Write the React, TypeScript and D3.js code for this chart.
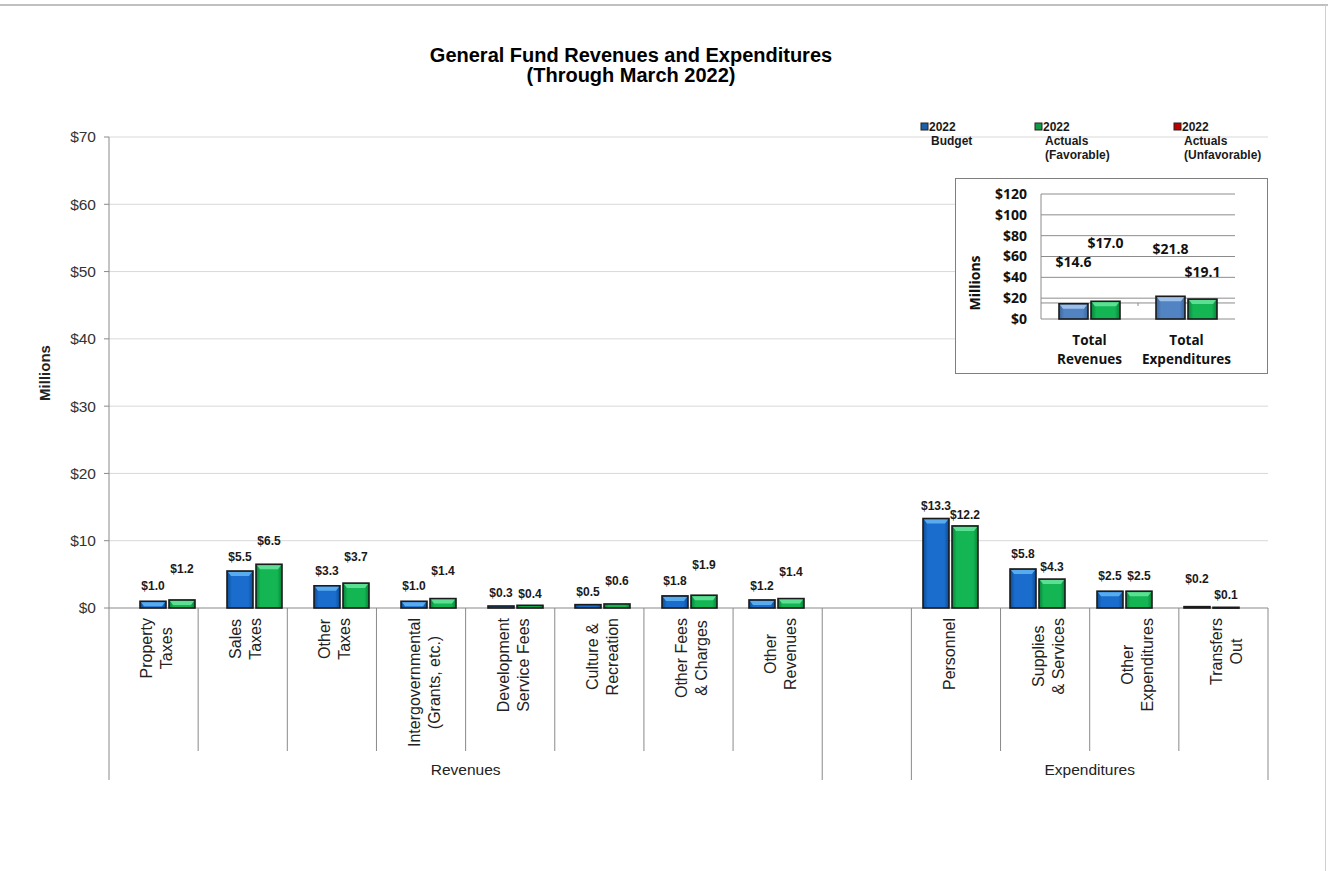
import React, { useEffect, useRef } from 'react';
import * as d3 from 'd3';

// ---------- data ----------
const categoryLines: string[][] = [
  ['Property', 'Taxes'],
  ['Sales', 'Taxes'],
  ['Other', 'Taxes'],
  ['Intergovernmental', '(Grants, etc.)'],
  ['Development', 'Service Fees'],
  ['Culture &', 'Recreation'],
  ['Other Fees', '& Charges'],
  ['Other', 'Revenues'],
  [],
  ['Personnel', ''],
  ['Supplies', '& Services'],
  ['Other', 'Expenditures'],
  ['Transfers', 'Out'],
];
const categoryGroup: string[] = [
  'Revenues', 'Revenues', 'Revenues', 'Revenues', 'Revenues', 'Revenues', 'Revenues', 'Revenues',
  '',
  'Expenditures', 'Expenditures', 'Expenditures', 'Expenditures',
];
const budget2022: (number | null)[] = [1.0, 5.5, 3.3, 1.0, 0.3, 0.5, 1.8, 1.2, null, 13.3, 5.8, 2.5, 0.2];
const actual2022: (number | null)[] = [1.2, 6.5, 3.7, 1.4, 0.4, 0.6, 1.9, 1.4, null, 12.2, 4.3, 2.5, 0.1];
const yTicks = [0, 10, 20, 30, 40, 50, 60, 70];

const insetCategories: string[][] = [['Total', 'Revenues'], ['Total', 'Expenditures']];
const insetBudget = [14.6, 21.8];
const insetActual = [17.0, 19.1];
const insetTicks = [0, 20, 40, 60, 80, 100, 120];
const insetRefValue = 15.4;

const legendLabels: string[][] = [
  ['2022', 'Budget'],
  ['2022', 'Actuals', '(Favorable)'],
  ['2022', 'Actuals', '(Unfavorable)'],
];

const titleLines = ['General Fund Revenues and Expenditures', '(Through March 2022)'];

// ---------- layout constants (not data) ----------
const W = 1328;
const H = 871;
const FONT = "'Liberation Sans', Arial, sans-serif";
const IFONT = "'Open Sans', 'Liberation Sans', sans-serif";
const budgetLift = [15, 14, 15, 15, 13, 13, 15, 14, 0, 13, 15, 15, 28];
const actualLift = [31, 23, 26, 28, 12, 23, 30, 27, 0, 11, 12, 15, 13];
const insetBudgetLift = [42, 47];
const insetActualLift = [58, 27];

const PAL = {
  blue: { dark: '#0b4a94', main: '#1a6dcc', light: '#5fb2f2' },
  green: { dark: '#07823a', main: '#13b653', light: '#66e39a' },
  steel: { dark: '#3b6699', main: '#5283c2', light: '#a4c6ee' },
};

export default function App() {
  const ref = useRef<SVGSVGElement | null>(null);

  useEffect(() => {
    const svg = d3.select(ref.current);
    svg.selectAll('*').remove();
    const defs = svg.append('defs');

    Object.entries(PAL).forEach(([k, p]) => {
      const g = defs.append('linearGradient').attr('id', 'g-' + k).attr('x1', 0).attr('x2', 1).attr('y1', 0).attr('y2', 0);
      g.append('stop').attr('offset', 0).attr('stop-color', p.dark);
      g.append('stop').attr('offset', 0.18).attr('stop-color', p.main);
      g.append('stop').attr('offset', 0.82).attr('stop-color', p.main);
      g.append('stop').attr('offset', 1).attr('stop-color', p.dark);
    });

    const drawBar = (g: any, x: number, y: number, w: number, h: number, key: 'blue' | 'green' | 'steel') => {
      const p = PAL[key];
      g.append('rect').attr('x', x).attr('y', y).attr('width', w).attr('height', Math.max(h, 0.8))
        .attr('fill', `url(#g-${key})`).attr('stroke', '#1b1b1b').attr('stroke-width', 1.6);
      if (h > 6) {
        g.append('path')
          .attr('d', `M${x + 1},${y + 1}L${x + w - 1},${y + 1}L${x + w - 4},${y + 5}L${x + 4},${y + 5}Z`)
          .attr('fill', p.light).attr('opacity', 0.9);
      }
    };

    // frame artefacts
    svg.append('line').attr('x1', 0).attr('x2', W).attr('y1', 5).attr('y2', 5).attr('stroke', '#c0c0c0').attr('stroke-width', 2);
    svg.append('line').attr('x1', W - 2.5).attr('x2', W - 2.5).attr('y1', 5).attr('y2', H).attr('stroke', '#cfcfcf').attr('stroke-width', 1);

    // title
    titleLines.forEach((t, i) => {
      svg.append('text').attr('x', 631).attr('y', 62 + i * 20).attr('text-anchor', 'middle')
        .attr('font-family', FONT).attr('font-weight', 'bold').attr('font-size', 20).attr('fill', '#000').text(t);
    });

    // ---------- main chart ----------
    const left = 109, right = 1268, top = 137, bottom = 608;
    const ids = categoryLines.map((_, i) => String(i));
    const axisX = d3.scaleBand<string>().domain(ids).range([left, right]).padding(0);
    const barX = d3.scaleBand<string>().domain(ids).range([124, 1255]).padding(0);
    const sub = d3.scaleBand<string>().domain(['budget', 'actual']).range([0, barX.bandwidth()])
      .paddingInner(0.1034).paddingOuter(0.5517);
    const y = d3.scaleLinear().domain([0, 70]).range([bottom, top]);

    const main = svg.append('g');
    yTicks.forEach((t) => {
      if (t > 0) {
        main.append('line').attr('x1', left).attr('x2', right).attr('y1', y(t)).attr('y2', y(t))
          .attr('stroke', '#d9d9d9').attr('stroke-width', 1);
      }
      main.append('line').attr('x1', left - 5).attr('x2', left).attr('y1', y(t)).attr('y2', y(t))
        .attr('stroke', '#8a8a8a');
      main.append('text').attr('x', left - 13).attr('y', y(t)).attr('dy', '0.35em').attr('text-anchor', 'end')
        .attr('font-family', FONT).attr('font-size', 15.5).attr('fill', '#333').text(d3.format('$')(t));
    });

    main.append('text').attr('transform', `translate(50,373) rotate(-90)`).attr('text-anchor', 'middle')
      .attr('font-family', FONT).attr('font-weight', 'bold').attr('font-size', 15).attr('fill', '#222').text('Millions');

    // category separators
    for (let i = 0; i <= ids.length; i++) {
      const xPos = i < ids.length ? (axisX(ids[i]) as number) : right;
      const isGroupEdge = i === 0 || i === ids.length || categoryGroup[i] !== categoryGroup[i - 1];
      main.append('line').attr('x1', xPos).attr('x2', xPos).attr('y1', i === 0 ? top : bottom)
        .attr('y2', isGroupEdge ? 780 : 751).attr('stroke', '#8a8a8a').attr('stroke-width', 1);
    }
    main.append('line').attr('x1', left).attr('x2', right).attr('y1', bottom).attr('y2', bottom)
      .attr('stroke', '#8a8a8a').attr('stroke-width', 1.2);

    // group labels
    const groups: { name: string; start: number; end: number }[] = [];
    categoryGroup.forEach((gName, i) => {
      const last = groups[groups.length - 1];
      if (last && last.name === gName) last.end = i;
      else groups.push({ name: gName, start: i, end: i });
    });
    groups.forEach((gr) => {
      if (!gr.name) return;
      const x0 = axisX(ids[gr.start]) as number;
      const x1 = (axisX(ids[gr.end]) as number) + axisX.bandwidth();
      main.append('text').attr('x', (x0 + x1) / 2).attr('y', 775).attr('text-anchor', 'middle')
        .attr('font-family', FONT).attr('font-size', 15.5).attr('fill', '#222').text(gr.name);
    });

    // category labels (rotated)
    const lineH = 20;
    categoryLines.forEach((lines, i) => {
      if (!lines.length) return;
      const g = main.append('g');
      const texts = lines.map((l) => g.append('text').attr('text-anchor', 'middle')
        .attr('font-family', FONT).attr('font-size', 16).attr('fill', '#222').attr('dy', '0.35em').text(l));
      const maxLen = d3.max(texts, (t: any) => (t.node() as SVGTextElement).getComputedTextLength()) || 0;
      const cx = (axisX(ids[i]) as number) + axisX.bandwidth() / 2 + 3;
      const yc = 618 + maxLen / 2;
      texts.forEach((t: any, j: number) => {
        const lx = cx + (j - (lines.length - 1) / 2) * lineH;
        t.attr('transform', `translate(${lx},${yc}) rotate(-90)`);
      });
    });

    // bars
    const bars = main.append('g');
    ids.forEach((id, i) => {
      const b = budget2022[i];
      const a = actual2022[i];
      const x0 = barX(id) as number;
      const bw = sub.bandwidth();
      if (b != null) {
        const xb = x0 + (sub('budget') as number);
        drawBar(bars, xb, y(b), bw, bottom - y(b), 'blue');
        bars.append('text').attr('x', xb + bw / 2).attr('y', y(b) - budgetLift[i]).attr('dy', '0.35em')
          .attr('text-anchor', 'middle').attr('font-family', FONT).attr('font-weight', 'bold').attr('font-size', 12)
          .attr('fill', '#1a1a1a').text(d3.format('$.1f')(b));
      }
      if (a != null) {
        const xa = x0 + (sub('actual') as number);
        drawBar(bars, xa, y(a), bw, bottom - y(a), 'green');
        bars.append('text').attr('x', xa + bw / 2).attr('y', y(a) - actualLift[i]).attr('dy', '0.35em')
          .attr('text-anchor', 'middle').attr('font-family', FONT).attr('font-weight', 'bold').attr('font-size', 12)
          .attr('fill', '#1a1a1a').text(d3.format('$.1f')(a));
      }
    });

    // ---------- legend ----------
    const legendX = [921, 1035, 1174];
    const legendColors = ['#1f5fa8', '#149a46', '#c00000'];
    legendLabels.forEach((lines, i) => {
      const g = svg.append('g');
      g.append('rect').attr('x', legendX[i]).attr('y', 123).attr('width', 7).attr('height', 7)
        .attr('fill', legendColors[i]).attr('stroke', '#222').attr('stroke-width', 1);
      lines.forEach((l, j) => {
        g.append('text').attr('x', legendX[i] + (j === 0 ? 8 : 10)).attr('y', 131 + j * 14)
          .attr('font-family', FONT).attr('font-weight', 'bold').attr('font-size', 12).attr('fill', '#1a1a1a').text(l);
      });
    });

    // ---------- inset ----------
    const inset = svg.append('g');
    inset.append('rect').attr('x', 955.5).attr('y', 178.5).attr('width', 312).attr('height', 195)
      .attr('fill', '#fff').attr('stroke', '#7f7f7f').attr('stroke-width', 1);
    const iL = 1041, iR = 1235, iT = 194, iB = 319;
    const iy = d3.scaleLinear().domain([0, 120]).range([iB, iT]);
    const iIds = insetCategories.map((_, i) => String(i));
    const ix = d3.scaleBand<string>().domain(iIds).range([iL, iR]).padding(0);
    const isub = d3.scaleBand<string>().domain(['budget', 'actual']).range([0, ix.bandwidth()])
      .paddingInner(0.094).paddingOuter(0.5625);

    insetTicks.forEach((t) => {
      inset.append('line').attr('x1', iL).attr('x2', iR).attr('y1', iy(t)).attr('y2', iy(t))
        .attr('stroke', '#8c8c8c').attr('stroke-width', 1);
      inset.append('text').attr('x', 1027).attr('y', iy(t)).attr('dy', '0.35em').attr('text-anchor', 'end')
        .attr('font-family', IFONT).attr('font-weight', 'bold').attr('font-size', 14).attr('fill', '#111')
        .text(d3.format('$')(t));
    });
    inset.append('line').attr('x1', iL).attr('x2', iR).attr('y1', iy(insetRefValue)).attr('y2', iy(insetRefValue))
      .attr('stroke', '#8c8c8c').attr('stroke-width', 1);
    inset.append('line').attr('x1', iL + ix.bandwidth()).attr('x2', iL + ix.bandwidth())
      .attr('y1', iy(insetRefValue)).attr('y2', iy(insetRefValue) + 3).attr('stroke', '#8c8c8c');
    inset.append('line').attr('x1', iL).attr('x2', iL).attr('y1', iT).attr('y2', iB).attr('stroke', '#8c8c8c');
    inset.append('text').attr('transform', `translate(980,283) rotate(-90)`).attr('text-anchor', 'middle')
      .attr('font-family', IFONT).attr('font-weight', 'bold').attr('font-size', 14).attr('fill', '#111').text('Millions');

    iIds.forEach((id, i) => {
      const x0 = ix(id) as number;
      const bw = isub.bandwidth();
      const xb = x0 + (isub('budget') as number);
      const xa = x0 + (isub('actual') as number);
      drawBar(inset, xb, iy(insetBudget[i]), bw, iB - iy(insetBudget[i]), 'steel');
      drawBar(inset, xa, iy(insetActual[i]), bw, iB - iy(insetActual[i]), 'green');
      inset.append('text').attr('x', xb + bw / 2).attr('y', iy(insetBudget[i]) - insetBudgetLift[i]).attr('dy', '0.35em')
        .attr('text-anchor', 'middle').attr('font-family', IFONT).attr('font-weight', 'bold').attr('font-size', 14)
        .attr('fill', '#111').text(d3.format('$.1f')(insetBudget[i]));
      inset.append('text').attr('x', xa + bw / 2).attr('y', iy(insetActual[i]) - insetActualLift[i]).attr('dy', '0.35em')
        .attr('text-anchor', 'middle').attr('font-family', IFONT).attr('font-weight', 'bold').attr('font-size', 14)
        .attr('fill', '#111').text(d3.format('$.1f')(insetActual[i]));
      insetCategories[i].forEach((l, j) => {
        inset.append('text').attr('x', x0 + ix.bandwidth() / 2).attr('y', 345 + j * 19).attr('text-anchor', 'middle')
          .attr('font-family', IFONT).attr('font-weight', 'bold').attr('font-size', 13.5).attr('fill', '#111').text(l);
      });
    });
  }, []);

  return (
    <svg ref={ref} width={W} height={H} style={{ position: 'absolute', left: 0, top: 0, background: '#fff' }} />
  );
}
